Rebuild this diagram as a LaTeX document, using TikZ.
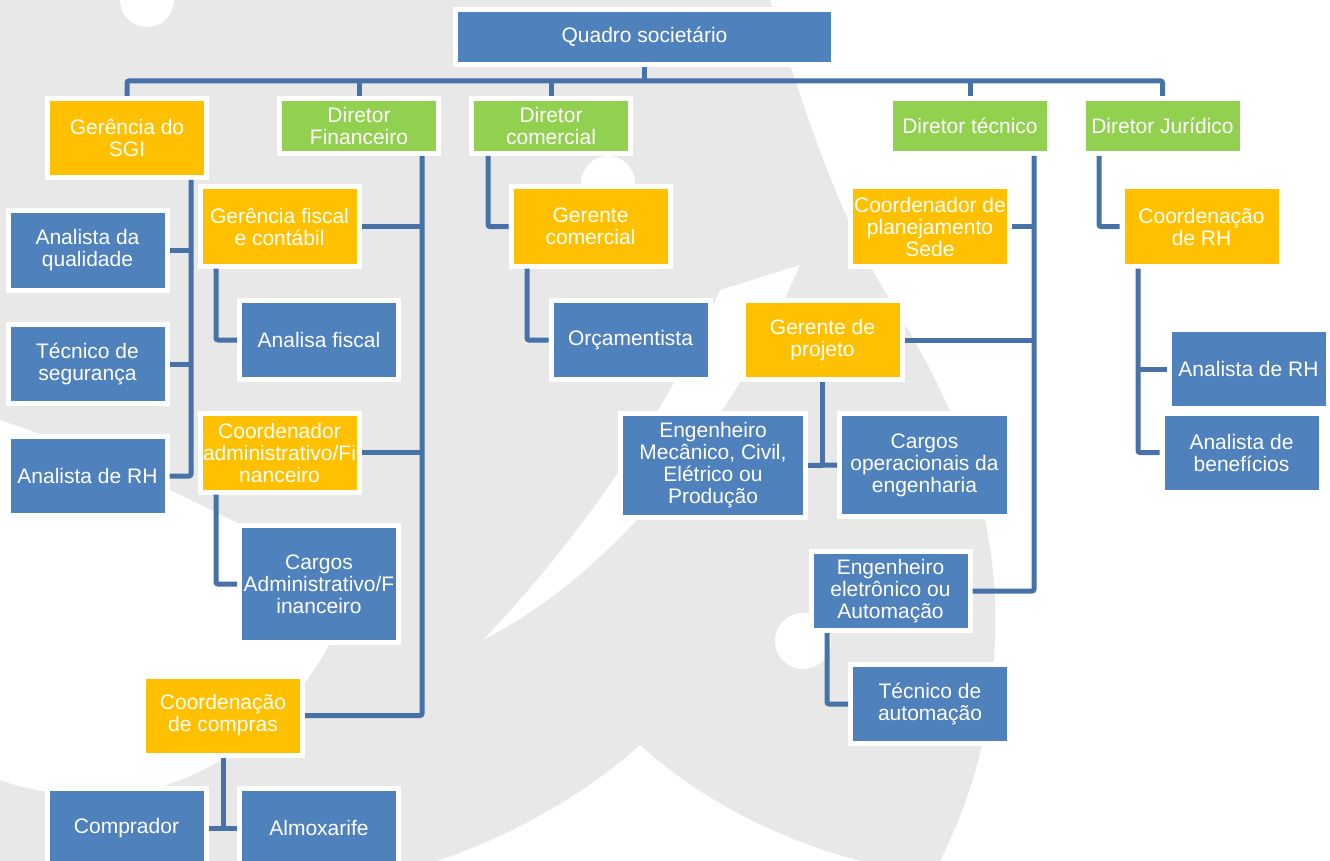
\documentclass[tikz,border=0pt]{standalone}
\usepackage{fontspec}
\setmainfont{Liberation Sans}
\definecolor{boxblue}{RGB}{79,129,189}
\definecolor{boxorange}{RGB}{255,192,0}
\definecolor{boxgreen}{RGB}{146,208,80}
\definecolor{linkblue}{RGB}{70,114,168}
\definecolor{watermark}{RGB}{232,232,232}
\tikzstyle{box} = [draw=white, line width=5pt, text=white, align=center, inner sep=0pt,
    font=\fontsize{21}{22}\selectfont, minimum width=159pt, minimum height=79pt]
\tikzstyle{role} = [box, fill=boxblue]
\tikzstyle{lead} = [box, fill=boxorange]
\tikzstyle{head} = [box, fill=boxgreen, minimum height=55pt]
\tikzstyle{link} = [draw=linkblue, line width=5pt, rounded corners=2pt]

\begin{document}
\begin{tikzpicture}[x=1pt, y=-1pt]
    \useasboundingbox (0,0) rectangle (1330,861);
    \clip (0,0) rectangle (1330,861);

    % background mark
    \fill[watermark] (0,0) -- (770,0) .. controls (800,100) and (840,220) .. (890,300)
        .. controls (960,410) and (1000,520) .. (995,640)
        .. controls (990,740) and (970,800) .. (940,861) -- (0,861) -- cycle;
    \fill[white] (483,640) .. controls (560,560) and (660,430) .. (720,290) -- (800,265)
        .. controls (720,450) and (600,580) .. (483,640) -- cycle;
    \fill[white] (640,745) .. controls (580,800) and (500,840) .. (437,861) -- (860,861)
        .. controls (780,840) and (700,800) .. (640,745) -- cycle;
    \fill[white] (0,420) .. controls (150,470) and (300,560) .. (360,580)
        .. controls (320,680) and (260,760) .. (150,790)
        .. controls (100,800) and (40,795) .. (0,780) -- cycle;
    \fill[white] (147,0) circle (27);
    \fill[white] (608,183) circle (27);
    \fill[white] (803,641) circle (28);

    % top
    \node[role, minimum width=378pt, minimum height=55pt] (quadro) at (644.5,37) {Quadro societário};
    \node[lead] (sgi) at (127,138) {Gerência do\\SGI};
    \node[head] (dfin) at (359,126) {Diretor\\Financeiro};
    \node[head] (dcom) at (551,126) {Diretor\\comercial};
    \node[head] (dtec) at (970,126) {Diretor técnico};
    \node[head] (djur) at (1162.5,126) {Diretor Jurídico};

    % SGI
    \node[role] (anq) at (87.5,250.5) {Analista da\\qualidade};
    \node[role] (tseg) at (87.5,364) {Técnico de\\segurança};
    \node[role] (arh) at (87.5,476) {Analista de RH};

    % financeiro
    \node[lead] (gfisc) at (279.5,226.5) {Gerência fiscal\\e contábil};
    \node[role] (afisc) at (319,340) {Analisa fiscal};
    \node[lead] (cadm) at (279.5,452.5) {Coordenador\\administrativo/Fi\\nanceiro};
    \node[role, minimum height=117pt] (cargadm) at (319,584) {Cargos\\Administrativo/F\\inanceiro};
    \node[lead] (compras) at (223,715.5) {Coordenação\\de compras};
    \node[role] (comprador) at (126.5,828) {Comprador};
    \node[role] (almox) at (319,828) {Almoxarife};

    % comercial
    \node[lead] (gcom) at (590.5,226.5) {Gerente\\comercial};
    \node[role] (orc) at (630.5,340) {Orçamentista};

    % tecnico
    \node[lead] (cplan) at (930,226.5) {Coordenador de\\planejamento\\Sede};
    \node[lead] (gproj) at (822.5,340) {Gerente de\\projeto};
    \node[role, minimum width=185pt, minimum height=104pt] (engmec) at (713,465.5)
        {Engenheiro\\Mecânico, Civil,\\Elétrico ou\\Produção};
    \node[role, minimum width=170pt, minimum height=103pt] (cop) at (924.5,465)
        {Cargos\\operacionais da\\engenharia};
    \node[role] (engel) at (890.5,591) {Engenheiro\\eletrônico ou\\Automação};
    \node[role] (tauto) at (930,704) {Técnico de\\automação};

    % juridico
    \node[lead] (crh) at (1201.5,226.5) {Coordenação\\de RH};
    \node[role] (arh2) at (1248.5,369) {Analista de RH};
    \node[role] (aben) at (1241.5,452.5) {Analista de\\benefícios};

    % trunk positions
    \coordinate (bus) at (0,81);
    \coordinate (sgix) at (191,0);
    \coordinate (finx) at (422,0);
    \coordinate (gfx) at (216,0);
    \coordinate (comx) at (488,0);
    \coordinate (gcx) at (527,0);
    \coordinate (tecx) at (1034,0);
    \coordinate (engx) at (827,0);
    \coordinate (jurx) at (1099,0);
    \coordinate (crhx) at (1138,0);

    % links
    \draw[link] (sgi.north) |- (djur.north |- bus) -- (djur.north);
    \draw[link] (quadro.south) -- (quadro.south |- bus);
    \foreach \n in {dfin,dcom,dtec}
        \draw[link] (\n.north) -- (\n.north |- bus);

    \draw[link] (sgi.south -| sgix) |- (arh.east);
    \draw[link] (anq.east) -- (anq.east -| sgix);
    \draw[link] (tseg.east) -- (tseg.east -| sgix);

    \draw[link] (dfin.south -| finx) |- (compras.east);
    \draw[link] (gfisc.east) -- (gfisc.east -| finx);
    \draw[link] (cadm.east) -- (cadm.east -| finx);
    \draw[link] (gfisc.south -| gfx) |- (afisc.west);
    \draw[link] (cadm.south -| gfx) |- (cargadm.west);
    \draw[link] (comprador.east) -- (almox.west);
    \draw[link] (compras.south) -- (compras.south |- almox.west);

    \draw[link] (dcom.south -| comx) |- (gcom.west);
    \draw[link] (gcom.south -| gcx) |- (orc.west);

    \draw[link] (dtec.south -| tecx) |- (engel.east);
    \draw[link] (cplan.east) -- (cplan.east -| tecx);
    \draw[link] (gproj.east) -- (gproj.east -| tecx);
    \draw[link] (engmec.east) -- (cop.west);
    \draw[link] (gproj.south) -- (gproj.south |- engmec.east);
    \draw[link] (engel.south -| engx) |- (tauto.west);

    \draw[link] (djur.south -| jurx) |- (crh.west);
    \draw[link] (crh.south -| crhx) |- (aben.west);
    \draw[link] (arh2.west -| crhx) -- (arh2.west);
\end{tikzpicture}
\end{document}
